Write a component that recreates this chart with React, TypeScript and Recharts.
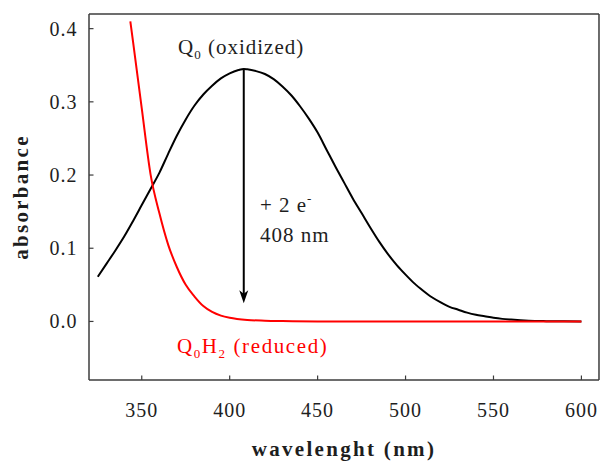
import React from "react";
import {
  LineChart,
  Line,
  XAxis,
  YAxis,
  ReferenceLine,
  ReferenceDot,
  Label
} from "recharts";

// Q0 (oxidized) spectrum
const oxWavelength = [
  325, 330, 335, 340, 345, 350, 355, 360, 365, 370, 375, 380, 385, 390, 395,
  400, 405, 408, 410, 415, 420, 425, 430, 435, 440, 445, 450, 455, 460, 465,
  470, 475, 480, 485, 490, 495, 500, 505, 510, 515, 520, 525, 530, 535, 540,
  545, 550, 555, 560, 570, 580, 590, 600
];
const oxAbsorbance = [
  0.061, 0.079, 0.097, 0.116, 0.137, 0.159, 0.181, 0.203, 0.229, 0.254, 0.276,
  0.295, 0.31, 0.322, 0.332, 0.339, 0.3435, 0.345, 0.3445, 0.342, 0.338,
  0.331, 0.321, 0.309, 0.294, 0.277, 0.258, 0.235, 0.212, 0.19, 0.168, 0.148,
  0.128, 0.109, 0.092, 0.077, 0.064, 0.052, 0.042, 0.033, 0.026, 0.02, 0.016,
  0.012, 0.009, 0.007, 0.005, 0.0035, 0.0025, 0.001, 0.0004, 0.0001, 0
];

// Q0H2 (reduced) spectrum
const redWavelength = [
  343.5, 345, 350, 355, 360, 365, 370, 375, 380, 385, 390, 395, 400, 410, 420,
  430, 450, 500, 550, 600
];
const redAbsorbance = [
  0.41, 0.383, 0.291, 0.201, 0.148, 0.105, 0.074, 0.05, 0.034, 0.021, 0.013,
  0.008, 0.005, 0.002, 0.001, 0.0005, 0, 0, 0, 0
];

const xMajorTicks = [350, 400, 450, 500, 550, 600];
const xMinorTicks = [
  330, 340, 360, 370, 380, 390, 410, 420, 430, 440, 460, 470, 480, 490, 510,
  520, 530, 540, 560, 570, 580, 590
];
const yMajorTicks = [0, 0.1, 0.2, 0.3, 0.4];
const yMinorTicks = [
  -0.06, -0.04, -0.02, 0.02, 0.04, 0.06, 0.08, 0.12, 0.14, 0.16, 0.18, 0.22,
  0.24, 0.26, 0.28, 0.32, 0.34, 0.36, 0.38
];

const oxidized = oxWavelength.map((x, i) => ({ x, y: oxAbsorbance[i] }));
const reduced = redWavelength.map((x, i) => ({ x, y: redAbsorbance[i] }));

const FONT =
  "'Liberation Serif', 'DejaVu Serif', 'Noto Serif', 'Nimbus Roman', FreeSerif, 'Times New Roman', Times, serif";
const FRAME = "#3c3c3c";
const TEXT = "#1e1e1e";
const X_DOMAIN = [320, 610];
const Y_DOMAIN = [-0.08, 0.42];

const frameLine = { stroke: FRAME, strokeWidth: 1.5 };
const tickLine = { stroke: FRAME, strokeWidth: 1.2 };

const XTick = (p: any) => (
  <text x={p.x} y={p.y} dy={14.2} textAnchor="middle"
    style={{ fontFamily: FONT, fontSize: 20, letterSpacing: 1 }} fill={TEXT}>
    {p.payload.value}
  </text>
);

const YTick = (p: any) => (
  <text x={p.x} y={p.y} dy={7} textAnchor="end"
    style={{ fontFamily: FONT, fontSize: 20, letterSpacing: 1 }} fill={TEXT}>
    {Number(p.payload.value).toFixed(1)}
  </text>
);

const titleStyle = {
  fontFamily: FONT,
  fontSize: 21,
  fontWeight: 700,
  letterSpacing: 2.3
};

const XTitle = (p: any) => {
  const vb = p.viewBox;
  return (
    <text x={vb.x + vb.width / 2} y={vb.y + 76} textAnchor="middle"
      style={titleStyle} fill={TEXT}>
      wavelenght (nm)
    </text>
  );
};

const YTitle = (p: any) => {
  const vb = p.viewBox;
  const cx = vb.x + 28;
  const cy = vb.y + vb.height / 2;
  return (
    <text x={cx} y={cy} textAnchor="middle"
      transform={`rotate(-90, ${cx}, ${cy})`} style={titleStyle} fill={TEXT}>
      absorbance
    </text>
  );
};

const noteStyle = { fontFamily: FONT, fontSize: 21, letterSpacing: 1 };

export default function App() {
  return (
    <div style={{ position: "absolute", left: 0, top: 0 }}>
      <LineChart
        width={601}
        height={462}
        margin={{ top: 14, right: 2, bottom: 0, left: 0 }}
      >
        <XAxis xAxisId="x" type="number" dataKey="x" domain={X_DOMAIN}
          allowDataOverflow ticks={xMajorTicks} interval={0} height={82}
          tickSize={-4.5} tickMargin={27} tick={(p: any) => <XTick {...p} />}
          axisLine={frameLine} tickLine={tickLine}>
          <Label content={XTitle} />
        </XAxis>
        <XAxis xAxisId="xMinorBottom" type="number" domain={X_DOMAIN}
          allowDataOverflow ticks={xMinorTicks} interval={0} mirror
          height={0.01} tickSize={2.7} tick={false} axisLine={false}
          tickLine={tickLine} />
        <XAxis xAxisId="xTop" orientation="top" type="number" domain={X_DOMAIN}
          allowDataOverflow ticks={xMajorTicks} interval={0} mirror
          height={0.01} tickSize={4.5} tick={false} axisLine={frameLine}
          tickLine={tickLine} />
        <XAxis xAxisId="xMinorTop" orientation="top" type="number"
          domain={X_DOMAIN} allowDataOverflow ticks={xMinorTicks} interval={0}
          mirror height={0.01} tickSize={2.7} tick={false} axisLine={false}
          tickLine={tickLine} />

        <YAxis yAxisId="y" type="number" domain={Y_DOMAIN} allowDataOverflow
          ticks={yMajorTicks} interval={0} width={89} tickSize={-4.5}
          tickMargin={16} tick={(p: any) => <YTick {...p} />}
          axisLine={frameLine} tickLine={tickLine}>
          <Label content={YTitle} />
        </YAxis>
        <YAxis yAxisId="yMinorLeft" type="number" domain={Y_DOMAIN}
          allowDataOverflow ticks={yMinorTicks} interval={0} mirror
          width={0.01} tickSize={2.7} tick={false} axisLine={false}
          tickLine={tickLine} />
        <YAxis yAxisId="yRight" orientation="right" type="number"
          domain={Y_DOMAIN} allowDataOverflow ticks={yMajorTicks} interval={0}
          mirror width={0.01} tickSize={4.5} tick={false} axisLine={frameLine}
          tickLine={tickLine} />
        <YAxis yAxisId="yMinorRight" orientation="right" type="number"
          domain={Y_DOMAIN} allowDataOverflow ticks={yMinorTicks} interval={0}
          mirror width={0.01} tickSize={2.7} tick={false} axisLine={false}
          tickLine={tickLine} />

        <Line xAxisId="x" yAxisId="y" data={oxidized} dataKey="y"
          type="monotone" stroke="#000000" strokeWidth={2} dot={false}
          activeDot={false} isAnimationActive={false} />
        <Line xAxisId="x" yAxisId="y" data={reduced} dataKey="y"
          type="monotone" stroke="#ff0000" strokeWidth={2} dot={false}
          activeDot={false} isAnimationActive={false} />

        {/* 408 nm arrow */}
        <ReferenceLine xAxisId="x" yAxisId="y"
          segment={[{ x: 408, y: 0.345 }, { x: 408, y: 0.035 }]}
          stroke="#000000" strokeWidth={2} />
        <ReferenceDot xAxisId="x" yAxisId="y" x={408} y={0.025} r={0}
          shape={(p: any) => (
            <path
              d={`M${p.cx},${p.cy} L${p.cx - 4.5},${p.cy - 13} L${p.cx},${p.cy - 9.5} L${p.cx + 4.5},${p.cy - 13} Z`}
              fill="#000000" />
          )} />

        <ReferenceDot xAxisId="x" yAxisId="y" x={370.6} y={0.365} r={0}
          shape={(p: any) => (
            <text x={p.cx} y={p.cy} fill={TEXT} style={noteStyle}>
              Q<tspan fontSize={13} dy={5}>0</tspan>
              <tspan dy={-5}>{" (oxidized)"}</tspan>
            </text>
          )} />
        <ReferenceDot xAxisId="x" yAxisId="y" x={370} y={-0.043} r={0}
          shape={(p: any) => (
            <text x={p.cx} y={p.cy} fill="#ff0000"
              style={{ ...noteStyle, letterSpacing: 1.6 }}>
              Q<tspan fontSize={13} dy={5}>0</tspan>
              <tspan dy={-5}>H</tspan>
              <tspan fontSize={13} dy={5}>2</tspan>
              <tspan dy={-5}>{" (reduced)"}</tspan>
            </text>
          )} />
        <ReferenceDot xAxisId="x" yAxisId="y" x={417.2} y={0.15} r={0}
          shape={(p: any) => (
            <text x={p.cx} y={p.cy} fill={TEXT} style={noteStyle}>
              {"+ 2 e"}
              <tspan fontSize={13} dy={-9}>-</tspan>
            </text>
          )} />
        <ReferenceDot xAxisId="x" yAxisId="y" x={417.2} y={0.109} r={0}
          shape={(p: any) => (
            <text x={p.cx} y={p.cy} fill={TEXT} style={noteStyle}>
              408 nm
            </text>
          )} />
      </LineChart>
    </div>
  );
}
